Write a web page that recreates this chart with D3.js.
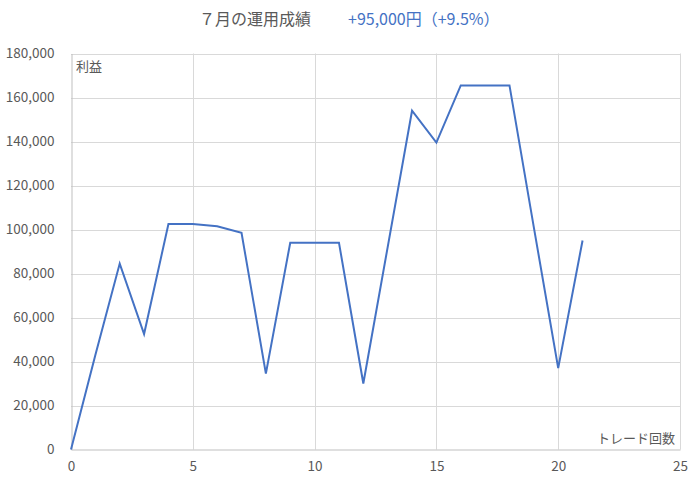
<!DOCTYPE html>
<html><head><meta charset="utf-8">
<script src="https://cdn.jsdelivr.net/npm/d3@7"></script>
<style>body{margin:0;background:#fff;}svg{display:block;font-family:"Noto Sans CJK JP","Noto Sans",sans-serif;}</style>
</head><body><svg id="c" width="700" height="484"></svg>
<script>
const trades = [0,1,2,3,4,5,6,7,8,9,10,11,12,13,14,15,16,17,18,19,20,21];
const profit = [0,43000,84500,52500,102500,102500,101500,98500,34500,94000,94000,94000,30000,92000,154000,139500,165500,165500,165500,101000,37000,95000];
const xTicks = [0,5,10,15,20,25];
const yTicks = [0,20000,40000,60000,80000,100000,120000,140000,160000,180000];
const titleMain = "７月の運用成績";
const titleSub = "+95,000円（+9.5%）";
const yTitle = "利益";
const xTitle = "トレード回数";

const svg = d3.select("#c");
const L=71, R=680, T=53.5, B=449.5;
const x = d3.scaleLinear().domain([0,25]).range([L,R]);
const y = d3.scaleLinear().domain([0,180000]).range([B,T]);
const grid="#d9d9d9", txt="#595959", blue="#4472C4";

// gridlines
svg.append("g").selectAll("line").data(yTicks.filter(d=>d>0)).join("line")
  .attr("x1",L).attr("x2",R).attr("y1",d=>Math.round(y(d))+0.5).attr("y2",d=>Math.round(y(d))+0.5)
  .attr("stroke",grid).attr("stroke-width",1);
svg.append("g").selectAll("line").data(xTicks.filter(d=>d>0)).join("line")
  .attr("y1",T).attr("y2",B).attr("x1",d=>Math.round(x(d))+0.5).attr("x2",d=>Math.round(x(d))+0.5)
  .attr("stroke",grid).attr("stroke-width",1);

// axes
const xa = svg.append("g").attr("transform",`translate(0,${B})`)
  .call(d3.axisBottom(x).tickValues(xTicks).tickSize(0).tickPadding(12).tickFormat(d3.format("d")));
xa.select(".domain").attr("stroke","#bfbfbf");
const ya = svg.append("g").attr("transform",`translate(${L+0.5},0)`)
  .call(d3.axisLeft(y).tickValues(yTicks).tickSize(0).tickPadding(17).tickFormat(d3.format(",")));
ya.select(".domain").attr("stroke","#bfbfbf");
svg.selectAll(".tick text").attr("fill",txt).attr("font-size","13.5px")
  .attr("font-family",'"Noto Sans CJK JP","Noto Sans",sans-serif');

// line
svg.append("path").datum(trades.map((t,i)=>[t,profit[i]]))
  .attr("fill","none").attr("stroke",blue).attr("stroke-width",2).attr("stroke-linejoin","miter")
  .attr("d",d3.line().x(d=>x(d[0])).y(d=>y(d[1])));

// axis titles
svg.append("text").attr("x",76).attr("y",71).attr("fill",txt).attr("font-size","13px").text(yTitle);
svg.append("text").attr("x",675).attr("y",443).attr("text-anchor","end").attr("fill",txt).attr("font-size","13px").text(xTitle);

// title
const t = svg.append("text").attr("x",199).attr("y",25).attr("font-size","16px");
t.append("tspan").attr("fill",txt).text(titleMain);
t.append("tspan").attr("dx",37).attr("fill",blue).text(titleSub);
</script></body></html>
